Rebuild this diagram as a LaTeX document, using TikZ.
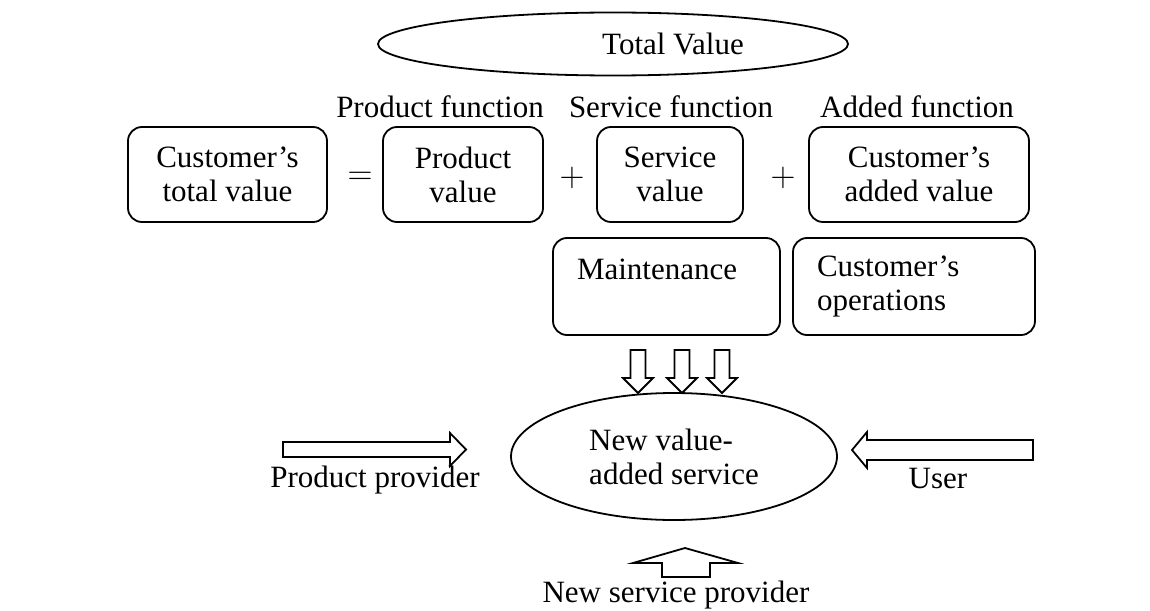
\documentclass[tikz,border=0pt]{standalone}
\usepackage{fontspec}
\setmainfont{Liberation Serif}
\usetikzlibrary{shapes.geometric}
\tikzset{
    every node/.style={
        font=\fontsize{15.5}{17}\selectfont},
    valuebox/.style={
        draw,
        line width=0.9pt,
        rounded corners=7pt,
        align=center,
        minimum height=47.5pt},
    opbox/.style={
        draw,
        line width=0.9pt,
        rounded corners=7pt,
        align=left,
        inner xsep=12pt,
        minimum height=48.5pt},
    oval/.style={
        draw,
        ellipse,
        line width=0.9pt},
    sign/.style={
        font=\fontsize{18}{20}\selectfont},
    blockarrow/.style={
        draw,
        line width=0.9pt,
        line join=miter}}

\begin{document}
\begin{tikzpicture}[x=0.5pt,y=-0.5pt]
        \useasboundingbox (0,0) rectangle (1150,610);
        % total value on top
        \node[oval, minimum width=235pt, minimum height=31.5pt] (total) at (613,44) {};
        \node (totaltext) at (673,44) {Total Value};
        % functions
        \node[anchor=base] (prodfun) at (440,118) {Product function};
        \node[anchor=base] (servfun) at (671,118) {Service function};
        \node[anchor=base] (addfun) at (917,118) {Added function};
        % values
        \node[valuebox, minimum width=99.5pt] (custval) at (227.5,174.5) {Customer’s\\total value};
        \node[sign] (eq) at (360,178) {$=$};
        \node[valuebox, minimum width=80pt] (prodval) at (463,174.5) {Product\\value};
        \node[sign] (plusa) at (572,178) {$+$};
        \node[valuebox, minimum width=73pt] (servval) at (670,174.5) {Service\\value};
        \node[sign] (plusb) at (783,178) {$+$};
        \node[valuebox, minimum width=110pt] (addval) at (919,174.5) {Customer’s\\added value};
        \node[opbox, text width=89.5pt] (maint) at (666.5,286.5) {Maintenance\\~};
        \node[opbox, text width=97pt] (custops) at (914,286.5) {Customer’s\\operations};
        % new service
        \node[oval, minimum width=163pt, minimum height=63.5pt, align=left] (newserv) at (674,456.5) {New value-\\added service};
        \foreach \x in {638,682,722}
            \draw[blockarrow] ({\x-7.5},350) -- ({\x+7.5},350) -- ({\x+7.5},378) -- ({\x+15},378)
                -- (\x,393) -- ({\x-15},378) -- ({\x-7.5},378) -- cycle;
        \draw[blockarrow] (283,442) -- (450,442) -- (450,433) -- (466,449.5) -- (450,466) -- (450,457) -- (283,457) -- cycle;
        \node[anchor=base] (prodprov) at (375,487) {Product provider};
        \draw[blockarrow] (1033,440) -- (867,440) -- (867,432) -- (852,450) -- (867,468) -- (867,460) -- (1033,460) -- cycle;
        \node[anchor=base] (user) at (938,488) {User};
        \draw[blockarrow] (662,577) -- (662,563) -- (633,563) -- (685,548) -- (738,563) -- (710,563) -- (710,577) -- cycle;
        \node[anchor=base] (newprov) at (676,602) {New service provider};
    \end{tikzpicture}
\end{document}
